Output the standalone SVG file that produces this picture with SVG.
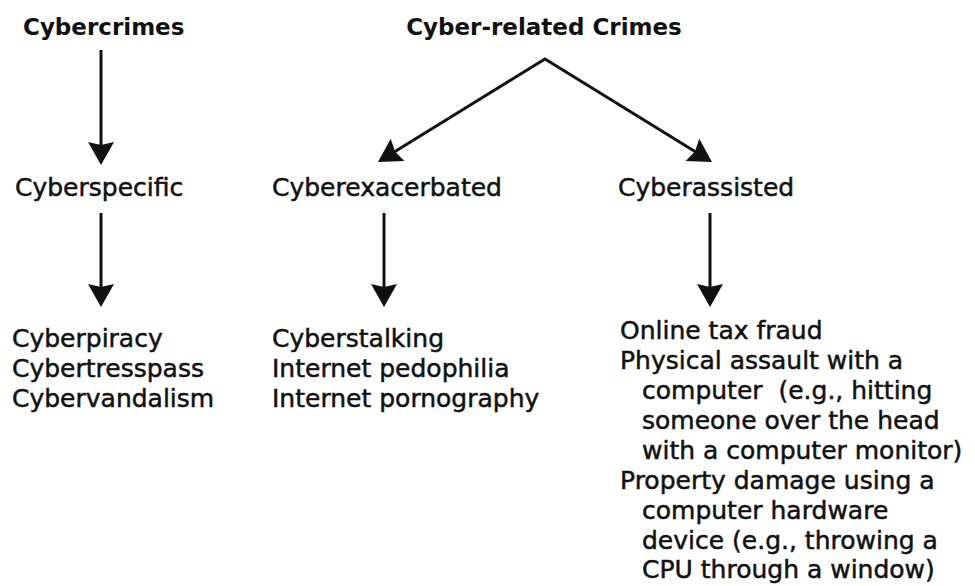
<svg xmlns="http://www.w3.org/2000/svg" width="975" height="586" viewBox="0 0 975 586">
  <style>
    .h { font-family: "DejaVu Sans", "Liberation Sans", sans-serif; font-weight: bold; font-size: 23px; fill: #111; }
    .t { font-family: "DejaVu Sans", "Liberation Sans", sans-serif; font-size: 25px; fill: #111; stroke: #111; stroke-width: 0.5; }
    .c { stroke: #111; stroke-width: 3; fill: none; stroke-linejoin: miter; }
  </style>
  <defs>
    <marker id="ah" markerUnits="userSpaceOnUse" markerWidth="30" markerHeight="30" viewBox="0 -15 26 30" refX="13" refY="0" orient="auto-start-reverse">
      <path d="M0,-13 L23,0 L0,13 L3,0 Z" fill="#111"/>
    </marker>
  </defs>
  <rect width="975" height="586" fill="#fff"/>

  <g id="connectors">
    <line class="c" x1="101" y1="50" x2="101" y2="155" marker-end="url(#ah)"/>
    <line class="c" x1="101" y1="213" x2="101" y2="297" marker-end="url(#ah)"/>
    <path class="c" d="M386.5,156.75 L545,59 L703.5,156.75" marker-start="url(#ah)" marker-end="url(#ah)"/>
    <line class="c" x1="384" y1="213" x2="384" y2="297" marker-end="url(#ah)"/>
    <line class="c" x1="710" y1="213" x2="710" y2="297" marker-end="url(#ah)"/>
  </g>

  <g id="cybercrimes"><text class="h" x="23" y="35">Cybercrimes</text></g>
  <g id="cyber-related"><text class="h" x="544" y="35" text-anchor="middle">Cyber-related Crimes</text></g>

  <g id="cyberspecific"><text class="t" x="15" y="196">Cyberspecific</text></g>
  <g id="cyberexacerbated"><text class="t" x="272" y="196">Cyberexacerbated</text></g>
  <g id="cyberassisted"><text class="t" x="618" y="196">Cyberassisted</text></g>

  <g id="specific-list">
    <text class="t" x="12" y="347">Cyberpiracy</text>
    <text class="t" x="12" y="377">Cybertresspass</text>
    <text class="t" x="12" y="407">Cybervandalism</text>
  </g>
  <g id="exacerbated-list">
    <text class="t" x="272" y="347">Cyberstalking</text>
    <text class="t" x="272" y="377">Internet pedophilia</text>
    <text class="t" x="272" y="407">Internet pornography</text>
  </g>
  <g id="assisted-list">
    <text class="t" x="620" y="339">Online tax fraud</text>
    <text class="t" x="620" y="369">Physical assault with a</text>
    <text class="t" x="642" y="399" xml:space="preserve">computer  (e.g., hitting</text>
    <text class="t" x="642" y="429">someone over the head</text>
    <text class="t" x="642" y="459">with a computer monitor)</text>
    <text class="t" x="620" y="489">Property damage using a</text>
    <text class="t" x="642" y="519">computer hardware</text>
    <text class="t" x="642" y="549">device (e.g., throwing a</text>
    <text class="t" x="642" y="578">CPU through a window)</text>
  </g>
</svg>
